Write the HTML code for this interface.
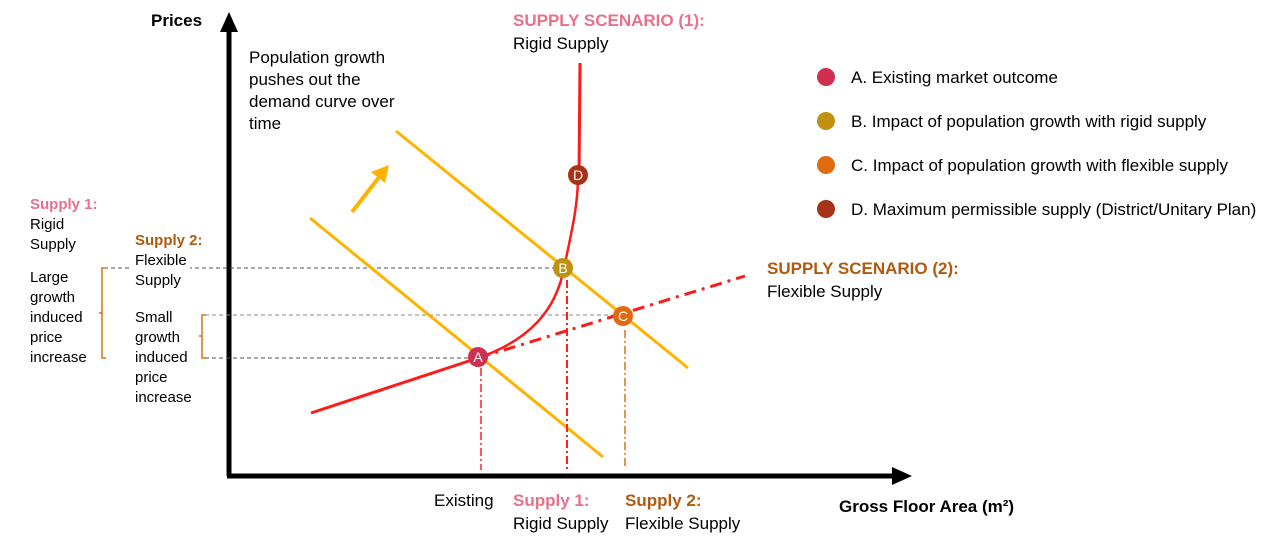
<!DOCTYPE html>
<html><head><meta charset="utf-8"><style>
body{margin:0;background:#fff}
svg{display:block}
text{font-family:"Liberation Sans",sans-serif;font-size:17px;fill:#000}
.b{font-weight:bold}
</style></head><body>
<svg width="1262" height="536" viewBox="0 0 1262 536">
<line x1="229" y1="476" x2="229" y2="28" stroke="#000" stroke-width="5"/>
<polygon points="229,12 220,32 238,32" fill="#000"/>
<line x1="227" y1="476" x2="895" y2="476" stroke="#000" stroke-width="5"/>
<polygon points="912,476 892,467 892,485" fill="#000"/>
<line x1="104" y1="268" x2="563" y2="268" stroke="#555" stroke-width="1" stroke-dasharray="4,3"/>
<line x1="205" y1="315" x2="623" y2="315" stroke="#888" stroke-width="1" stroke-dasharray="4,3"/>
<line x1="205" y1="358" x2="478" y2="358" stroke="#555" stroke-width="1" stroke-dasharray="4,3"/>
<rect x="132" y="256" width="58" height="30" fill="#fff"/>
<path d="M106,268 H102 V358 H106 M102,313 H99" stroke="#e07010" stroke-width="1.5" fill="none"/>
<path d="M206,315 H202 V358 H206 M202,336 H199" stroke="#e07010" stroke-width="1.5" fill="none"/>
<line x1="310" y1="218" x2="603" y2="457" stroke="#ffb300" stroke-width="3"/>
<line x1="396" y1="131" x2="688" y2="368" stroke="#ffb300" stroke-width="3"/>
<line x1="352" y1="212" x2="380" y2="176" stroke="#ffb300" stroke-width="4"/>
<polygon points="389,165 371,172 385,183" fill="#ffb300"/>
<line x1="481" y1="368" x2="481" y2="470" stroke="#ff2020" stroke-width="1.5" stroke-dasharray="8,3,2,3"/>
<line x1="567" y1="280" x2="567" y2="470" stroke="#ff2020" stroke-width="2" stroke-dasharray="8,3,2,3"/>
<line x1="625" y1="330" x2="625" y2="468" stroke="#e07010" stroke-width="1.5" stroke-dasharray="8,3,2,3"/>
<line x1="311" y1="413" x2="478" y2="358" stroke="#ff1a1a" stroke-width="3"/>
<path d="M478,358 C530,340 556,310 564,268 C572,230 578,205 578,176" stroke="#ff1a1a" stroke-width="2.5" fill="none"/>
<line x1="579" y1="176" x2="580" y2="63" stroke="#ff1a1a" stroke-width="3"/>
<line x1="478" y1="358" x2="745" y2="276" stroke="#ff1a1a" stroke-width="3" stroke-dasharray="12,6,3,6"/>
<circle cx="478" cy="357" r="10" fill="#d0304f"/><text x="478" y="362" style="fill:#fff;font-size:14px" text-anchor="middle">A</text>
<circle cx="563" cy="268" r="10" fill="#c09010"/><text x="563" y="273" style="fill:#fff;font-size:14px" text-anchor="middle">B</text>
<circle cx="623" cy="316" r="10" fill="#e06a10"/><text x="623" y="321" style="fill:#fff;font-size:14px" text-anchor="middle">C</text>
<circle cx="578" cy="175" r="10" fill="#a83218"/><text x="578" y="180" style="fill:#fff;font-size:14px" text-anchor="middle">D</text>
<text x="151" y="26" class="b">Prices</text>
<text x="249" y="63">Population growth</text>
<text x="249" y="85">pushes out the</text>
<text x="249" y="107">demand curve over</text>
<text x="249" y="129">time</text>
<text x="513" y="26" class="b" style="fill:#e8708a">SUPPLY SCENARIO (1):</text>
<text x="513" y="49">Rigid Supply</text>
<text x="767" y="274" class="b" style="fill:#b05a10">SUPPLY SCENARIO (2):</text>
<text x="767" y="297">Flexible Supply</text>
<text x="30" y="209" class="b" style="fill:#e8708a;font-size:15px">Supply 1:</text>
<text x="30" y="229" style="font-size:15px">Rigid</text>
<text x="30" y="249" style="font-size:15px">Supply</text>
<text x="30" y="282" style="font-size:15px">Large</text>
<text x="30" y="302" style="font-size:15px">growth</text>
<text x="30" y="322" style="font-size:15px">induced</text>
<text x="30" y="342" style="font-size:15px">price</text>
<text x="30" y="362" style="font-size:15px">increase</text>
<text x="135" y="245" class="b" style="fill:#b05a10;font-size:15px">Supply 2:</text>
<text x="135" y="265" style="font-size:15px">Flexible</text>
<text x="135" y="285" style="font-size:15px">Supply</text>
<text x="135" y="322" style="font-size:15px">Small</text>
<text x="135" y="342" style="font-size:15px">growth</text>
<text x="135" y="362" style="font-size:15px">induced</text>
<text x="135" y="382" style="font-size:15px">price</text>
<text x="135" y="402" style="font-size:15px">increase</text>
<text x="434" y="506">Existing</text>
<text x="513" y="506" class="b" style="fill:#e8708a">Supply 1:</text>
<text x="513" y="529">Rigid Supply</text>
<text x="625" y="506" class="b" style="fill:#b05a10">Supply 2:</text>
<text x="625" y="529">Flexible Supply</text>
<text x="839" y="512" class="b">Gross Floor Area (m²)</text>
<circle cx="826" cy="77" r="9" fill="#d0304f"/><text x="851" y="83">A. Existing market outcome</text>
<circle cx="826" cy="121" r="9" fill="#c09010"/><text x="851" y="127">B. Impact of population growth with rigid supply</text>
<circle cx="826" cy="165" r="9" fill="#e06a10"/><text x="851" y="171">C. Impact of population growth with flexible supply</text>
<circle cx="826" cy="209" r="9" fill="#a83218"/><text x="851" y="215">D. Maximum permissible supply (District/Unitary Plan)</text>
</svg>
</body></html>
